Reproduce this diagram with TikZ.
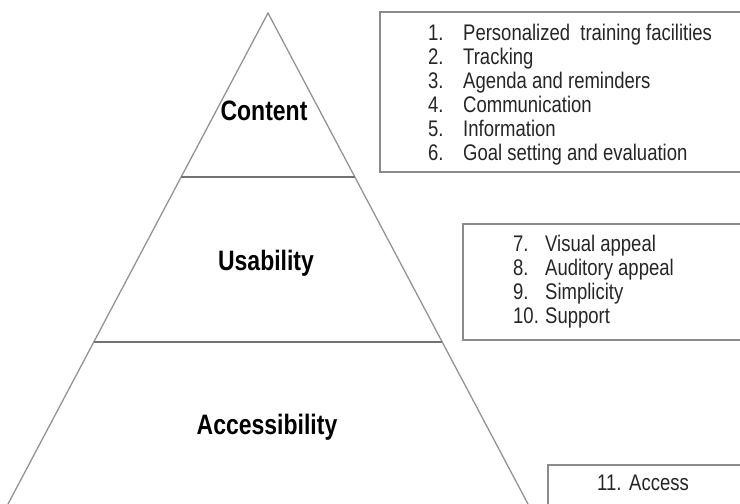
\documentclass[tikz,border=0pt]{standalone}
\usepackage{fontspec}
\setmainfont{Liberation Sans}
\newcommand{\tallbox}[1]{\scalebox{1}[1.22]{#1}}
\begin{document}
\begin{tikzpicture}[x=1pt,y=-1pt,
  pyr/.style={draw=black!42, line width=1.3pt},
  sep/.style={draw=black!55, line width=1.6pt},
  listbox/.style={draw=black!45, line width=1.6pt},
  lvl/.style={font=\fontsize{23}{26}\selectfont\bfseries, inner sep=0pt, anchor=base},
  num/.style={font=\fontsize{18.5}{24}\selectfont, inner sep=0pt, anchor=base west, text=black!85},
  item/.style={font=\fontsize{18.5}{24}\selectfont, inner sep=0pt, anchor=base west, text=black!85}]
\useasboundingbox (0,0) rectangle (740,504);
\clip (0,0) rectangle (740,504);
\fill[white] (0,0) rectangle (740,504);
% pyramid
\coordinate (apex) at (268,13);
\coordinate (bl) at (8,504);
\coordinate (br) at (528,504);
\coordinate (s1l) at (181,177);
\coordinate (s1r) at (355,177);
\coordinate (s2l) at (94,342);
\coordinate (s2r) at (442,342);
\draw[pyr] (bl) -- (apex) -- (br);
\draw[sep] (s1l) -- (s1r);
\draw[sep] (s2l) -- (s2r);
\node[lvl] (content) at (264,120) {\tallbox{Content}};
\node[lvl] (usab) at (266,270) {\tallbox{Usability}};
\node[lvl] (access) at (267,434) {\tallbox{Accessibility}};
% boxes
\draw[listbox] (380,12) rectangle (750,172);
\draw[listbox] (463,224) rectangle (750,340);
\draw[listbox] (548,465) rectangle (750,520);
% box 1
\node[num] (n1) at (428,40) {\tallbox{1.}};
\node[item] (t1) at (463,40) {\tallbox{Personalized\ \ training facilities}};
\node[num] (n2) at (428,64) {\tallbox{2.}};
\node[item] (t2) at (463,64) {\tallbox{Tracking}};
\node[num] (n3) at (428,88) {\tallbox{3.}};
\node[item] (t3) at (463,88) {\tallbox{Agenda and reminders}};
\node[num] (n4) at (428,112) {\tallbox{4.}};
\node[item] (t4) at (463,112) {\tallbox{Communication}};
\node[num] (n5) at (428,136) {\tallbox{5.}};
\node[item] (t5) at (463,136) {\tallbox{Information}};
\node[num] (n6) at (428,160) {\tallbox{6.}};
\node[item] (t6) at (463,160) {\tallbox{Goal setting and evaluation}};
% box 2
\node[num] (n7) at (513,251) {\tallbox{7.}};
\node[item] (t7) at (545,251) {\tallbox{Visual appeal}};
\node[num] (n8) at (513,275) {\tallbox{8.}};
\node[item] (t8) at (545,275) {\tallbox{Auditory appeal}};
\node[num] (n9) at (513,299) {\tallbox{9.}};
\node[item] (t9) at (545,299) {\tallbox{Simplicity}};
\node[num] (n10) at (513,323) {\tallbox{10.}};
\node[item] (t10) at (545,323) {\tallbox{Support}};
% box 3
\node[num] (n11) at (597,490) {\tallbox{11.}};
\node[item] (t11) at (629,490) {\tallbox{Access}};
\end{tikzpicture}
\end{document}
